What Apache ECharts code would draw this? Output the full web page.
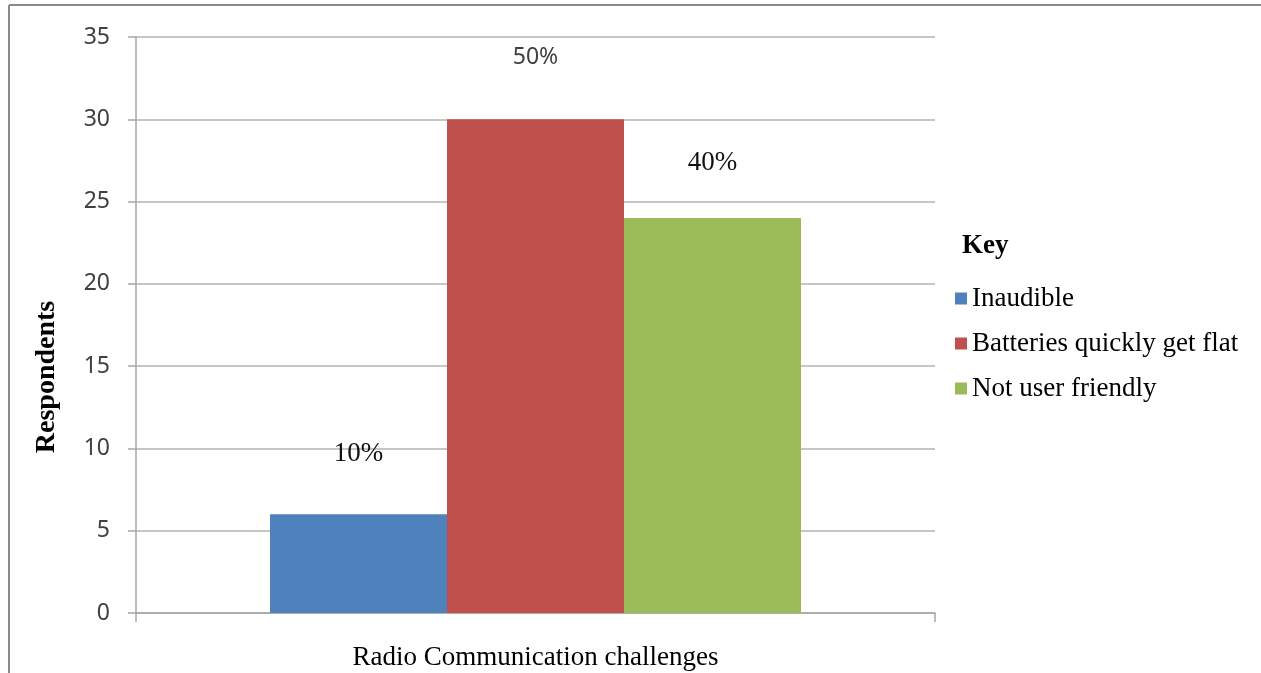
<!DOCTYPE html>
<html>
<head>
<meta charset="utf-8">
<script src="https://cdn.jsdelivr.net/npm/echarts@6/dist/echarts.min.js"></script>
<style>
  html, body { margin: 0; padding: 0; background: #fff; }
  #chart { width: 1261px; height: 673px; }
</style>
</head>
<body>
<div id="chart"></div>
<script>
var categories = ['Radio Communication challenges'];
var seriesNames = ['Inaudible', 'Batteries quickly get flat', 'Not user friendly'];
var seriesValues = [6, 30, 24];
var percentLabels = ['10%', '50%', '40%'];
var yTicks = { min: 0, max: 35, interval: 5 };

var colors = ['#4f81bd', '#c0504d', '#9bbb59'];
var labelFonts = ['Liberation Serif', 'Noto Sans', 'Liberation Serif'];
var labelSizes = [27, 23, 27];
var labelDist = [47, 50, 42];

var chart = echarts.init(document.getElementById('chart'));

var series = seriesNames.map(function (name, i) {
    return {
        name: name,
        type: 'bar',
        data: [seriesValues[i]],
        barWidth: 177,
        barGap: '0%',
        itemStyle: { color: colors[i] },
        label: {
            show: true,
            position: 'top',
            distance: labelDist[i],
            formatter: function () { return percentLabels[i]; },
            fontFamily: labelFonts[i],
            fontSize: labelSizes[i],
            color: i === 1 ? '#404040' : '#111'
        }
    };
});

var option = {
    animation: false,
    grid: { left: 136, right: 326, top: 37, bottom: 60 },
    title: {
        text: 'Key',
        left: 957,
        top: 228,
        textStyle: { fontFamily: 'Liberation Serif', fontWeight: 'bold', fontSize: 27, color: '#000' }
    },
    legend: {
        orient: 'vertical',
        left: 950,
        top: 280,
        itemWidth: 12,
        itemHeight: 12,
        itemGap: 18,
        icon: 'rect',
        data: seriesNames,
        textStyle: { fontFamily: 'Liberation Serif', fontSize: 27, color: '#000', lineHeight: 27 }
    },
    xAxis: {
        type: 'category',
        data: categories,
        axisLine: { lineStyle: { color: '#a6a6a6', width: 1.5 } },
        axisTick: { show: true, length: 9, lineStyle: { color: '#a6a6a6', width: 1.5 } },
        axisLabel: { margin: 31, fontFamily: 'Liberation Serif', fontSize: 27, color: '#000' }
    },
    yAxis: {
        type: 'value',
        min: yTicks.min,
        max: yTicks.max,
        interval: yTicks.interval,
        name: 'Respondents',
        nameLocation: 'middle',
        nameGap: 75,
        nameTextStyle: { fontFamily: 'Liberation Serif', fontWeight: 'bold', fontSize: 28, color: '#000', padding: [0, 104, 0, 0] },
        axisLine: { show: true, lineStyle: { color: '#a6a6a6', width: 1.5 } },
        axisTick: { show: true, length: 8, lineStyle: { color: '#a6a6a6', width: 1.5 } },
        axisLabel: { margin: 26, fontFamily: 'Noto Sans', fontSize: 23, color: '#404040' },
        splitLine: { lineStyle: { color: '#b3b3b3', width: 1.5 } }
    },
    graphic: [
        { type: 'line', shape: { x1: 9, y1: 5, x2: 9, y2: 673 }, style: { stroke: '#8a8a8a', lineWidth: 2 } },
        { type: 'line', shape: { x1: 9, y1: 5, x2: 1261, y2: 5 }, style: { stroke: '#8a8a8a', lineWidth: 2 } }
    ],
    series: series
};

chart.setOption(option);
</script>
</body>
</html>
